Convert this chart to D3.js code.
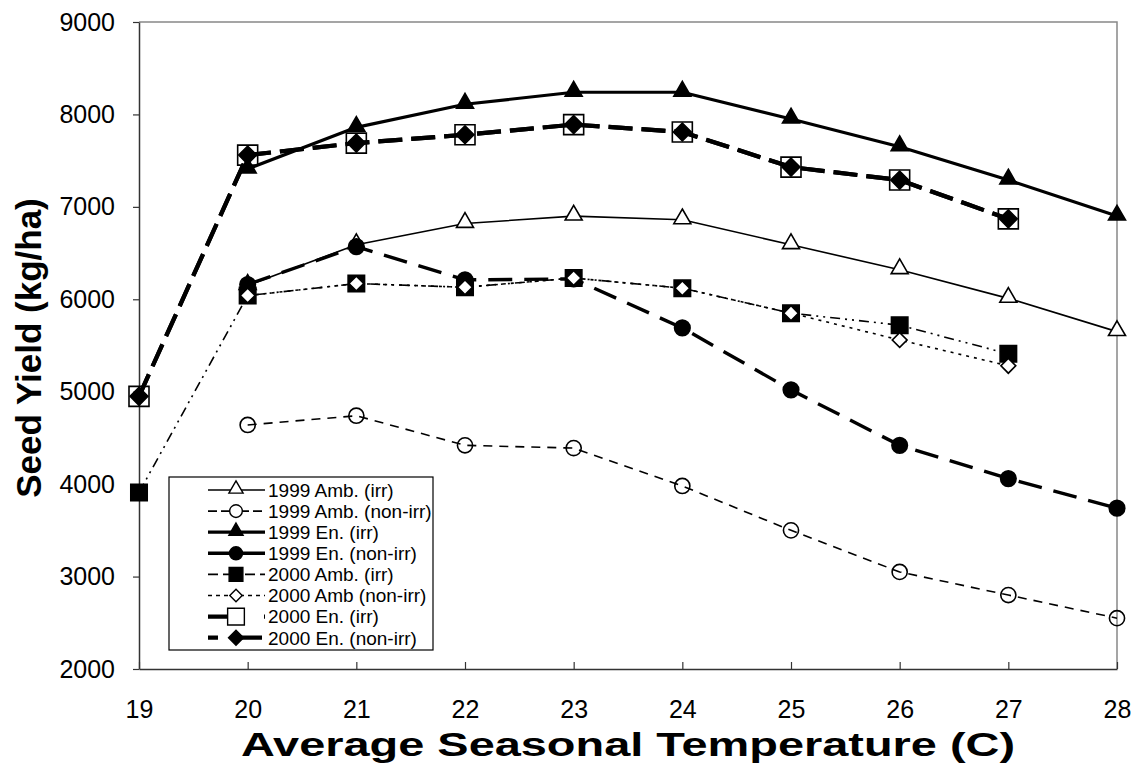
<!DOCTYPE html>
<html><head><meta charset="utf-8">
<script src="https://cdn.jsdelivr.net/npm/d3@7"></script>
<style>body{margin:0;background:#fff;} svg{display:block;font-family:"Liberation Sans",Arial,sans-serif;}</style>
</head><body>
<svg id="c" width="1137" height="765"></svg>
<script>
const temps = [19,20,21,22,23,24,25,26,27,28];
const yTicks = [2000,3000,4000,5000,6000,7000,8000,9000];
const seriesNames = ["1999 Amb. (irr)","1999 Amb. (non-irr)","1999 En. (irr)","1999 En. (non-irr)","2000 Amb. (irr)","2000 Amb (non-irr)","2000 En. (irr)","2000 En. (non-irr)"];
// values per temperature (null = no data)
const amb99Irr    = [null,6150,6590,6820,6900,6860,6590,6320,6010,5650];
const amb99NonIrr = [null,4640,4740,4420,4390,3980,3500,3050,2800,2550];
const en99Irr     = [null,7410,7860,8110,8240,8240,7950,7650,7290,6900];
const en99NonIrr  = [null,6160,6570,6210,6220,5690,5020,4420,4060,3740];
const amb00Irr    = [3910,6040,6170,6130,6230,6120,5850,5720,5410,null];
const amb00NonIrr = [null,6040,6170,6130,6230,6120,5850,5560,5280,null];
const en00Irr     = [4950,7560,7690,7780,7890,7810,7430,7290,6870,null];
const en00NonIrr  = [4950,7560,7690,7780,7890,7810,7430,7290,6870,null];

const seriesData = [amb99Irr,amb99NonIrr,en99Irr,en99NonIrr,amb00Irr,amb00NonIrr,en00Irr,en00NonIrr];
const styles = [
  {w:1.6, dash:null, legDash:null, sym:"tri", fill:"#fff", size:125},
  {w:1.6, dash:"9,7", legDash:"9,4,9,4,2,4", sym:"circle", fill:"none", size:180},
  {w:3.2, dash:null, legDash:null, sym:"tri", fill:"#000", size:125},
  {w:3.4, dash:"24,12", legDash:null, sym:"circle", fill:"#000", size:190},
  {w:1.6, dash:"10,5,2,5,2,5", legDash:"10,5,10,5,2,5", sym:"square", fill:"#000", size:270},
  {w:1.6, dash:"3,5", legDash:"4,4", sym:"diamond", fill:"#fff", size:110},
  {w:4.2, dash:"24,9", legDash:"26,30,3,10", sym:"square", fill:"none", size:400},
  {w:4.2, dash:"24,9", legDash:"10,14,30,10", sym:"diamond", fill:"#000", size:160}
];

const svg = d3.select("#c");
const x = d3.scaleLinear().domain([19,28]).range([139,1117]);
const y = d3.scaleLinear().domain([2000,9000]).range([669,22]);

// plot border (gray top/right)
svg.append("path").attr("d",`M139,22H1117V669`).attr("fill","none").attr("stroke","#888").attr("stroke-width",1.5);

// axes
const gx = svg.append("g").attr("transform","translate(0,669)")
  .call(d3.axisBottom(x).tickValues(temps).tickFormat(d3.format("d")).tickSizeInner(-7).tickSizeOuter(0).tickPadding(31));
const gy = svg.append("g").attr("transform","translate(139,0)")
  .call(d3.axisLeft(y).tickValues(yTicks).tickFormat(d3.format("d")).tickSizeInner(6).tickSizeOuter(0).tickPadding(16));
[gx,gy].forEach(g=>{
  g.select(".domain").attr("stroke","#333").attr("stroke-width",1.5);
  g.selectAll(".tick line").attr("stroke","#333").attr("stroke-width",1.2);
  g.selectAll(".tick text").attr("font-size",25).attr("fill","#000").attr("font-family","Liberation Sans, Arial, sans-serif");
});
gy.selectAll(".tick text").attr("dx","-2");

function symPath(s,size){
  if(s==="tri") return d3.symbol(d3.symbolTriangle,size)();
  if(s==="circle") return d3.symbol(d3.symbolCircle,size)();
  return d3.symbol(d3.symbolSquare,size)();
}
function symTransform(s,cx,cy){
  let t=`translate(${cx},${cy})`;
  if(s==="diamond") t+=" rotate(45)";
  if(s==="tri") t+=" translate(0,-1)";
  return t;
}

const line = d3.line().defined(d=>d.v!==null).x(d=>x(d.t)).y(d=>y(d.v));
seriesData.forEach((arr,i)=>{
  const st = styles[i];
  const pts = temps.map((t,j)=>({t:t,v:arr[j]}));
  svg.append("path").datum(pts).attr("d",line).attr("fill","none")
    .attr("stroke","#000").attr("stroke-width",st.w)
    .attr("stroke-dasharray",st.dash).attr("stroke-linejoin","round");
  svg.append("g").selectAll("path").data(pts.filter(d=>d.v!==null)).join("path")
    .attr("d",symPath(st.sym,st.size))
    .attr("transform",d=>symTransform(st.sym,x(d.t),y(d.v)))
    .attr("fill",st.fill).attr("stroke","#000").attr("stroke-width",1.6);
});

// legend
const lg = svg.append("g");
lg.append("rect").attr("x",169).attr("y",477).attr("width",264).attr("height",173)
  .attr("fill","#fff").attr("stroke","#000").attr("stroke-width",1.2);
seriesNames.forEach((name,i)=>{
  const st=styles[i];
  const cy = 490 + i*21.1;
  lg.append("line").attr("x1",208).attr("x2",265).attr("y1",cy).attr("y2",cy)
    .attr("stroke","#000").attr("stroke-width",st.w).attr("stroke-dasharray",st.legDash);
  lg.append("path").attr("d",symPath(st.sym,st.size*0.7))
    .attr("transform",symTransform(st.sym,236,cy))
    .attr("fill",st.fill==="none"?"#fff":st.fill).attr("stroke","#000").attr("stroke-width",1.4);
  lg.append("text").attr("x",268).attr("y",cy).attr("dy","0.36em")
    .attr("font-size",19).text(name);
});

// titles
svg.append("text").attr("x",628).attr("y",756).attr("text-anchor","middle")
  .attr("font-size",34).attr("font-weight","bold")
  .attr("textLength",774).attr("lengthAdjust","spacingAndGlyphs")
  .text("Average Seasonal Temperature (C)");
svg.append("text").attr("transform","translate(41,348) rotate(-90)").attr("text-anchor","middle")
  .attr("font-size",35).attr("font-weight","bold").text("Seed Yield (kg/ha)");
</script>
</body></html>
